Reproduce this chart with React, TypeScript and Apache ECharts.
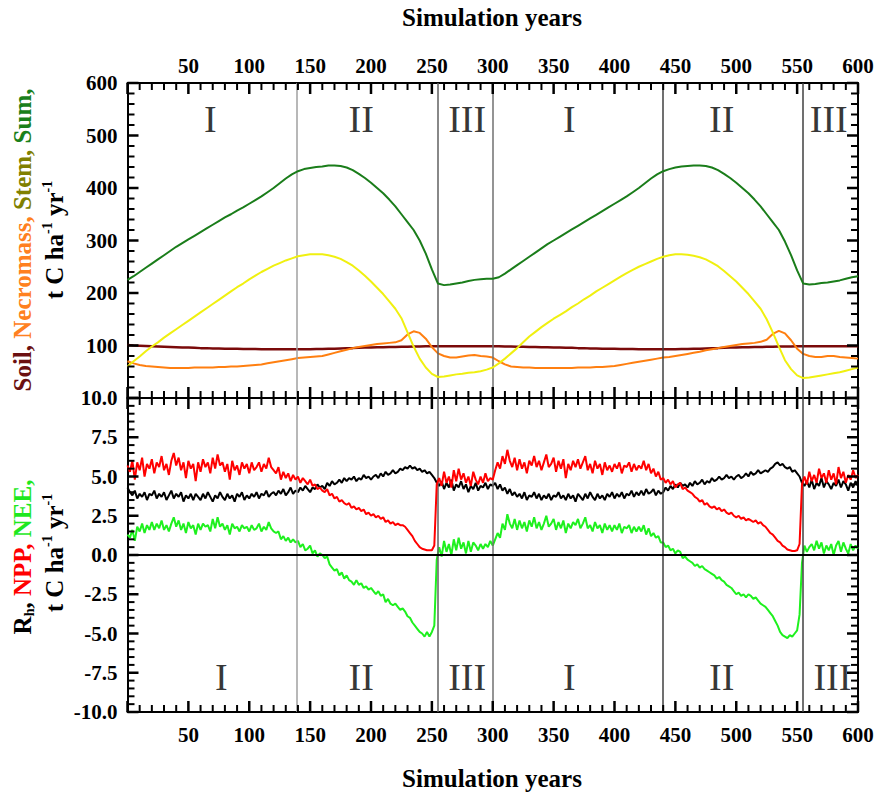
import React, { useEffect, useRef } from 'react';
import * as echarts from 'echarts';

// ---------- DATA ----------
// Top panel: carbon pools, t C ha-1, every 5 simulation years (0..600)
const poolYears = Array.from({ length: 121 }, (_, i) => i * 5);

const sumPool = [
  225, 232, 240, 248, 256, 264, 272, 280, 288, 295,
  302, 309, 316, 323, 330, 337, 344, 350, 357, 363,
  370, 377, 384, 392, 400, 409, 418, 426, 432, 436,
  438, 440, 441, 443, 443, 442, 439, 434, 427, 419,
  410, 400, 390, 378, 365, 350, 335, 320, 300, 275,
  245, 218, 215, 216, 218, 220, 223, 225, 226, 227,
  227, 230, 237, 245, 253, 261, 269, 277, 285, 293,
  300, 307, 314, 321, 328, 335, 342, 349, 356, 363,
  370, 377, 384, 392, 400, 409, 418, 426, 432, 436,
  439, 441, 442, 443, 443, 442, 439, 434, 427, 419,
  410, 400, 390, 378, 365, 350, 335, 320, 298, 272,
  243, 218, 216, 217, 219, 220, 222, 224, 227, 230,
  232,
];

const stemPool = [
  60, 70, 79, 89, 98, 106, 115, 123, 131, 139,
  147, 155, 163, 171, 179, 187, 195, 203, 211, 218,
  226, 233, 240, 246, 252, 257, 262, 266, 270, 272,
  274, 274, 274, 272, 269, 265, 259, 252, 243, 233,
  222, 210, 198, 184, 170, 152, 125, 98, 75, 58,
  46, 40, 41, 43, 45, 46, 48, 49, 51, 54,
  58, 66, 75, 85, 95, 106, 117, 126, 135, 143,
  151, 158, 165, 173, 180, 188, 195, 203, 210, 217,
  224, 231, 238, 244, 250, 255, 260, 265, 269, 272,
  274, 274, 273, 271, 268, 264, 258, 251, 242, 232,
  222, 210, 198, 184, 170, 150, 125, 98, 72, 55,
  43, 38, 39, 41, 43, 45, 47, 49, 52, 55,
  58,
];

const soilPool = [
  101, 100, 99.5, 99, 98.5, 98, 97.5, 97, 96.5, 96,
  96, 95.5, 95, 95, 94.5, 94.5, 94, 94, 94, 93.5,
  93.5, 93.5, 93, 93, 93, 93, 93, 93, 93, 93,
  93, 93.5, 93.5, 94, 94, 94.5, 95, 95, 95.5, 96,
  96, 96.5, 96.5, 97, 97, 97.5, 97.5, 98, 98, 98.5,
  98.5, 98.5, 98.5, 98.5, 98.5, 98.5, 98.5, 98.5, 98.5, 98.5,
  98.5, 98.5, 98, 98, 97.5, 97.5, 97, 97, 96.5, 96.5,
  96, 96, 95.5, 95.5, 95, 95, 94.5, 94.5, 94, 94,
  94, 93.5, 93.5, 93.5, 93, 93, 93, 93, 93, 93,
  93, 93.5, 93.5, 94, 94, 94.5, 95, 95, 95.5, 96,
  96, 96.5, 96.5, 97, 97, 97.5, 97.5, 98, 98, 98,
  98.5, 98.5, 98.5, 98.5, 98.5, 98.5, 98.5, 98.5, 98.5, 98.5,
  98.5,
];

const necroPool = [
  70, 66, 63, 61, 60, 59, 58, 57, 57, 57,
  57, 58, 58, 58, 58, 59, 59, 60, 60, 61,
  62, 63, 64, 66, 68, 70, 72, 74, 76, 77,
  78, 79, 80, 83, 86, 89, 92, 95, 97, 99,
  101, 103, 104, 105, 106, 110, 121, 127, 124, 113,
  97, 85, 80, 77, 77, 79, 81, 82, 80, 79,
  77, 70, 64, 60, 59, 58, 58, 57, 57, 57,
  57, 57, 57, 57, 58, 58, 58, 59, 59, 60,
  61, 63, 65, 67, 69, 71, 73, 75, 77, 78,
  80, 82, 84, 86, 88, 91, 93, 95, 97, 99,
  101, 103, 104, 105, 107, 111, 122, 128, 123, 110,
  94, 84, 80, 78, 78, 80, 80, 78, 77, 76,
  75,
];

// Bottom panel: fluxes, t C ha-1 yr-1, every 2 simulation years (0..600)
const fluxYears = Array.from({ length: 301 }, (_, i) => i * 2);

const nppFlux = [
  5.7, 5.3, 6.0, 4.8, 5.9, 5.4, 6.2, 5.0, 5.8, 5.5, 6.1,
  5.2, 5.9, 5.6, 6.3, 5.4, 5.8, 5.1, 6.0, 6.5, 5.7,
  6.2, 5.4, 5.9, 4.9, 6.0, 5.5, 5.8, 4.7, 5.9, 5.3,
  6.1, 5.6, 5.9, 5.2, 6.2, 5.5, 6.4, 5.7, 5.9, 5.3,
  5.8, 4.8, 6.0, 5.4, 5.7, 5.1, 5.9, 5.5, 5.8, 5.2,
  5.9, 5.4, 5.6, 5.9, 5.3, 5.8, 5.5, 6.2, 5.6, 5.4,
  5.2, 5.6, 4.8, 5.3, 4.9, 5.2, 4.7, 5.1, 4.8, 5.0,
  4.6, 4.9, 4.7, 4.5, 4.8, 4.4, 4.5, 4.2, 4.3, 4.1,
  4.0, 4.2, 3.8, 3.9, 3.6, 3.7, 3.4, 3.5, 3.3, 3.2,
  3.3, 3.0, 3.1, 2.9, 3.0, 2.8, 2.9, 2.6, 2.7, 2.5,
  2.6, 2.4, 2.5, 2.3, 2.4, 2.1, 2.2, 2.0, 2.1, 1.9,
  2.0, 1.9, 1.9, 1.8, 1.6, 1.4, 1.2, 0.9, 0.7, 0.5,
  0.4, 0.35, 0.3, 0.3, 0.3, 0.6, 4.5,
  4.9, 4.4, 5.3, 4.6, 5.0, 4.3, 5.4, 4.7, 5.5, 4.8, 5.2,
  4.6, 5.0, 4.4, 5.3, 4.8, 4.5, 5.0, 4.6, 5.2, 4.7, 4.9,
  4.8, 5.4, 5.9, 5.5, 6.3, 5.8, 6.7, 6.0, 5.6, 6.2, 5.4,
  6.1, 5.5, 5.9, 5.2, 6.0, 5.7, 6.3, 5.6, 6.0, 5.4,
  5.9, 6.4, 5.6, 5.8, 6.2, 5.3, 6.0, 5.5, 6.1, 4.9,
  5.8, 5.4, 6.0, 5.6, 6.1, 5.5, 5.9, 6.3, 5.4, 5.8,
  5.2, 6.0, 5.5, 5.8, 5.1, 5.9, 5.4, 5.7, 5.3, 5.8,
  5.5, 5.9, 5.2, 5.7, 5.6, 5.9, 5.3, 5.8, 5.4, 5.7,
  5.5, 6.0, 5.4, 5.8, 5.2, 5.5, 5.0, 5.3, 4.8, 4.9,
  4.6, 4.8, 4.5, 4.7, 4.3, 4.5, 4.6, 4.2, 4.3, 4.1,
  4.0, 3.9, 3.7, 3.6, 3.4, 3.5, 3.2, 3.3, 3.1, 3.0,
  3.1, 2.9, 3.0, 2.8, 2.9, 2.7, 2.6, 2.7, 2.5, 2.4,
  2.5, 2.3, 2.4, 2.2, 2.3, 2.2, 2.1, 2.2, 2.0, 2.1,
  1.9, 1.8, 1.6, 1.4, 1.3, 1.1, 0.9, 0.8, 0.6, 0.5,
  0.35, 0.3, 0.25, 0.25, 0.3, 0.7, 4.5,
  5.0, 4.5, 5.3, 4.7, 5.1, 4.6, 5.5, 4.9, 5.2, 4.6, 5.4,
  4.8, 5.2, 4.5, 5.6, 4.9, 5.3, 4.6, 5.1, 4.8, 5.4, 4.9, 5.1,
];

const rhFlux = [
  4.3, 4.0, 3.8, 4.1, 3.6, 3.9, 3.7, 4.0, 3.5, 3.9, 3.8,
  4.1, 3.6, 3.9, 3.7, 4.0, 3.5, 3.8, 4.1, 3.6, 3.9,
  3.7, 4.0, 3.4, 3.8, 3.6, 3.9, 3.5, 3.9, 3.7, 3.5,
  3.9, 3.6, 4.0, 3.7, 3.4, 3.8, 3.6, 4.0, 3.7, 3.5,
  3.9, 3.6, 3.8, 3.4, 3.9, 3.7, 4.0, 3.5, 3.8, 3.6,
  3.9, 3.7, 4.0, 3.6, 3.9, 3.8, 4.1, 3.7, 3.9, 4.0,
  3.8, 4.1, 3.9, 4.2, 3.8, 4.0, 4.3, 3.9, 4.1, 4.0,
  4.3, 4.1, 4.4, 4.2, 4.0, 4.3, 4.2, 4.5, 4.3, 4.4,
  4.2, 4.6, 4.4, 4.7, 4.5, 4.6, 4.8, 4.6, 4.9, 4.7,
  4.9, 4.8, 5.0, 4.7, 4.9, 4.8, 5.1, 4.9, 5.0, 4.8,
  5.0, 5.1, 4.9, 5.2, 5.0, 5.3, 5.1, 5.2, 5.4, 5.2,
  5.3, 5.5, 5.4, 5.6, 5.5, 5.7, 5.5, 5.6, 5.4, 5.5,
  5.3, 5.4, 5.2, 5.3, 5.1, 4.9, 4.6,
  4.4, 4.7, 4.2, 4.6, 4.3, 4.8, 4.1, 4.5, 4.3, 4.7, 4.2,
  4.5, 4.0, 4.4, 4.2, 4.6, 4.1, 4.4, 4.3, 4.6, 4.2, 4.5,
  4.4, 4.6, 4.2, 4.5, 4.1, 4.3, 3.9, 4.2, 3.8, 4.0, 3.7,
  3.9, 3.6, 4.0, 3.5, 3.8, 3.7, 4.0, 3.6, 3.9, 3.5,
  3.8, 3.6, 3.9, 3.5, 3.8, 3.7, 4.0, 3.6, 3.8, 3.5,
  3.9, 3.6, 3.8, 3.4, 3.9, 3.7, 3.5, 3.9, 3.6, 4.0,
  3.7, 3.5, 3.9, 3.6, 3.8, 3.5, 3.9, 3.7, 4.0, 3.6,
  3.9, 3.7, 4.0, 3.6, 3.9, 3.8, 4.1, 3.7, 4.0, 3.8,
  4.1, 3.8, 4.2, 3.9, 4.0, 4.2, 3.8, 4.1, 3.9, 4.0,
  4.3, 4.1, 4.4, 4.2, 4.5, 4.3, 4.6, 4.4, 4.5, 4.3,
  4.6, 4.4, 4.7, 4.5, 4.6, 4.8, 4.5, 4.7, 4.6, 4.9,
  4.7, 4.8, 5.0, 4.8, 4.9, 5.1, 4.9, 5.0, 4.8, 5.0,
  5.1, 4.9, 5.0, 5.2, 5.0, 5.3, 5.1, 5.2, 5.4, 5.2,
  5.3, 5.4, 5.3, 5.5, 5.6, 5.8, 5.9, 5.7, 5.8, 5.6,
  5.5, 5.6, 5.3, 5.4, 5.2, 5.0, 4.6,
  4.4, 4.7, 4.3, 4.8, 4.2, 4.6, 4.4, 4.9, 4.3, 4.7, 4.5,
  4.2, 4.6, 4.4, 4.8, 4.3, 4.7, 4.5, 4.1, 4.6, 4.3, 4.7, 4.4,
];

const neeFlux = [
  1.3, 1.1, 1.6, 0.9, 1.8, 1.5, 2.0, 1.4, 1.9, 1.6, 2.1,
  1.6, 2.0, 1.7, 2.2, 1.6, 1.9, 1.5, 2.0, 2.4, 1.8,
  2.2, 1.6, 2.0, 1.4, 2.1, 1.7, 1.9, 1.3, 2.0, 1.6,
  2.0, 1.8, 1.9, 1.5, 2.3, 1.7, 2.4, 1.8, 2.0, 1.6,
  1.9, 1.3, 2.0, 1.7, 1.8, 1.5, 1.9, 1.7, 1.8, 1.5,
  1.9, 1.6, 1.7, 2.0, 1.5, 1.8, 1.6, 2.1, 1.7, 1.5,
  1.4, 1.5, 1.0, 1.2, 0.9, 1.1, 0.8, 1.0, 0.8, 0.9,
  0.5, 0.7, 0.3, 0.4, 0.6, 0.1, 0.3, -0.1, 0.1, 0.0,
  -0.2, -0.1, -0.6, -0.8, -1.0, -0.9, -1.3, -1.1, -1.5, -1.3,
  -1.6, -1.7, -1.9, -1.6, -1.9, -1.8, -2.1, -2.0, -2.2, -2.1,
  -2.3, -2.5, -2.3, -2.6, -2.5, -3.0, -2.8, -3.1, -3.2, -3.1,
  -3.3, -3.5, -3.4, -3.6, -3.9, -4.0, -4.3, -4.5, -4.7, -4.9,
  -5.0, -5.2, -4.9, -5.2, -4.9, -4.5, -0.3,
  0.5, -0.1, 0.9, 0.2, 0.7, 0.0, 1.0, 0.3, 1.1, 0.4, 0.8,
  0.1, 0.9, 0.2, 0.8, 0.6, 0.3, 0.7, 0.4, 0.7, 0.5, 0.9,
  0.6, 1.0, 1.4, 1.1, 2.0, 1.6, 2.6, 2.0, 1.7, 2.3, 1.6,
  2.2, 1.7, 2.1, 1.5, 2.2, 1.8, 2.4, 1.7, 2.1, 1.6,
  2.0, 2.5, 1.8, 2.0, 2.3, 1.6, 2.1, 1.7, 2.2, 1.4,
  2.0, 1.7, 2.1, 1.9, 2.3, 1.7, 2.0, 2.4, 1.7, 1.9,
  1.5, 2.1, 1.7, 1.9, 1.4, 2.0, 1.6, 1.9, 1.5, 1.9,
  1.6, 2.0, 1.4, 1.8, 1.7, 1.9, 1.4, 1.8, 1.5, 1.8,
  1.5, 1.9, 1.3, 1.7, 1.2, 1.4, 1.1, 1.2, 0.8, 0.8,
  0.5, 0.6, 0.3, 0.4, 0.1, 0.3, 0.2, -0.2, -0.1, -0.3,
  -0.4, -0.5, -0.7, -0.6, -0.8, -0.7, -0.9, -1.0, -1.1, -1.2,
  -1.3, -1.5, -1.4, -1.6, -1.7, -1.9, -2.0, -2.1, -2.3, -2.5,
  -2.4, -2.6, -2.5, -2.7, -2.5, -2.6, -2.8, -2.7, -2.9, -3.1,
  -3.2, -3.3, -3.5, -3.7, -3.9, -4.2, -4.5, -4.9, -5.1, -5.2,
  -5.3, -5.1, -5.2, -5.0, -4.8, -3.8, -0.5,
  0.6, 0.2, 0.5, 0.7, 0.3, 0.9, 0.4, 0.8, 0.1, 0.6, 0.3,
  0.7, 0.0, 0.6, 0.9, 0.2, 0.8, 0.4, 0.1, 0.7, 0.3, 0.6, 0.4,
];

// Phase boundaries (years) and phase labels
const phaseBounds = [139, 255, 300, 440, 555];
const phaseBoundColors = ['#a0a0a0', '#606060', '#707070', '#404040', '#404040'];
const topPhaseLabels: [number, number, string][] = [
  [68, 531, 'I'], [192, 531, 'II'], [279, 531, 'III'],
  [363, 531, 'I'], [488, 531, 'II'], [576, 531, 'III'],
];
const bottomPhaseLabels: [number, number, string][] = [
  [77, -7.8, 'I'], [192, -7.8, 'II'], [279, -7.8, 'III'],
  [363, -7.8, 'I'], [488, -7.8, 'II'], [579, -7.8, 'III'],
];

// Tick positions (major + minor) of the inward ticks
const yearTicks = Array.from({ length: 61 }, (_, i) => i * 10);          // major every 50
const poolTicks = Array.from({ length: 31 }, (_, i) => i * 20);          // major every 100
const fluxTicks = Array.from({ length: 41 }, (_, i) => -10 + i * 0.5);   // major every 2.5

const FONT = "'Liberation Serif', 'Times New Roman', serif";

// layout
const GRID_W = 730.5;
const TOP_H = 315;
const BOT_H = 314;
const MAJOR_LEN = 11;
const MINOR_LEN = 7;

const pair = (xs: number[], ys: number[]) => xs.map((x, i) => [x, ys[i]]);
const isMajor = (v: number, step: number) => Math.abs(v / step - Math.round(v / step)) < 1e-6;

function xAxisDef(gridIndex: number, position: 'top' | 'bottom', showLabel: boolean, margin: number) {
  return {
    type: 'value', gridIndex, position, min: 0, max: 600, interval: 50,
    axisLine: { show: true, onZero: false, lineStyle: { color: '#000', width: 2 } },
    axisTick: { show: false },
    minorTick: { show: false },
    axisLabel: {
      show: showLabel, margin,
      formatter: (v: number) => (v === 0 ? '' : String(v)),
      fontFamily: FONT, fontWeight: 'bold', fontSize: 21, color: '#000',
    },
    splitLine: { show: false },
  };
}

function yAxisDef(gridIndex: number, position: 'left' | 'right', min: number, max: number, interval: number, showLabel: boolean, fmt: (v: number) => string) {
  return {
    type: 'value', gridIndex, position, min, max, interval,
    axisLine: { show: true, onZero: false, lineStyle: { color: '#000', width: 2 } },
    axisTick: { show: false },
    minorTick: { show: false },
    axisLabel: {
      show: showLabel, margin: 10, formatter: fmt,
      fontFamily: FONT, fontWeight: 'bold', fontSize: 21, color: '#000',
    },
    splitLine: { show: false },
  };
}

function phaseLines(extra: any[] = []) {
  return {
    silent: true,
    symbol: ['none', 'none'],
    label: { show: false },
    data: [
      ...phaseBounds.map((x, i) => ({ xAxis: x, lineStyle: { color: phaseBoundColors[i], width: 1.5, type: 'solid' } })),
      ...extra,
    ],
  };
}

function phaseSeries(xi: number, yi: number, data: [number, number, string][]) {
  return {
    type: 'scatter', xAxisIndex: xi, yAxisIndex: yi, silent: true,
    symbolSize: 1, itemStyle: { color: 'rgba(0,0,0,0)' },
    data,
    label: {
      show: true, position: 'inside',
      formatter: (p: any) => p.value[2],
      fontFamily: FONT, fontSize: 38, color: '#000',
    },
    z: 1,
  };
}

const titleBold = { fontFamily: FONT, fontWeight: 'bold', fontSize: 25 };
const supStyle = { fontFamily: FONT, fontWeight: 'bold', fontSize: 14, lineHeight: 14, verticalAlign: 'top', fill: '#000' };

const titleGraphics: any[] = [
  { type: 'text', x: 492, y: 17, style: { text: 'Simulation years', ...titleBold, fill: '#000', align: 'center', verticalAlign: 'middle' } },
  { type: 'text', x: 492, y: 778, style: { text: 'Simulation years', ...titleBold, fill: '#000', align: 'center', verticalAlign: 'middle' } },
  {
    type: 'text', x: 22, y: 240, rotation: Math.PI / 2,
    style: {
      text: '{soil|Soil, }{nec|Necromass, }{stem|Stem, }{sum|Sum,}',
      align: 'center', verticalAlign: 'middle', ...titleBold,
      rich: {
        soil: { ...titleBold, fill: '#6b1010' },
        nec: { ...titleBold, fill: '#ff8020' },
        stem: { ...titleBold, fill: '#808000' },
        sum: { ...titleBold, fill: '#1a801a' },
      },
    },
  },
  {
    type: 'text', x: 54, y: 240, rotation: Math.PI / 2,
    style: {
      text: '{b|t C ha}{s|-1}{b| yr}{s|-1}',
      align: 'center', verticalAlign: 'middle', ...titleBold,
      rich: { b: { ...titleBold, lineHeight: 28, fill: '#000' }, s: supStyle },
    },
  },
  {
    type: 'text', x: 22, y: 557, rotation: Math.PI / 2,
    style: {
      text: '{r|R}{h|h}{r|, }{npp|NPP, }{nee|NEE,}',
      align: 'center', verticalAlign: 'middle', ...titleBold,
      rich: {
        r: { ...titleBold, lineHeight: 28, fill: '#000' },
        h: { fontFamily: FONT, fontWeight: 'bold', fontSize: 14, lineHeight: 14, verticalAlign: 'bottom', fill: '#000' },
        npp: { ...titleBold, fill: '#ff0000' },
        nee: { ...titleBold, fill: '#1ee81e' },
      },
    },
  },
  {
    type: 'text', x: 54, y: 553, rotation: Math.PI / 2,
    style: {
      text: '{b|t C ha}{s|-1}{b| yr}{s|-1}',
      align: 'center', verticalAlign: 'middle', ...titleBold,
      rich: { b: { ...titleBold, lineHeight: 28, fill: '#000' }, s: supStyle },
    },
  },
];

export default function App() {
  const ref = useRef<HTMLDivElement>(null);

  useEffect(() => {
    if (!ref.current) return;
    const chart = echarts.init(ref.current, undefined, { renderer: 'svg' });
    const option: any = {
      animation: false,
      backgroundColor: '#fff',
      grid: [
        { left: 127.5, top: 83, width: GRID_W, height: TOP_H },
        { left: 127.5, top: 83 + TOP_H, width: GRID_W, height: BOT_H },
      ],
      xAxis: [
        xAxisDef(0, 'top', true, 7),
        xAxisDef(0, 'bottom', false, 8),
        xAxisDef(1, 'top', false, 8),
        xAxisDef(1, 'bottom', true, 12),
      ],
      yAxis: [
        yAxisDef(0, 'left', 0, 600, 100, true, (v) => (v === 0 ? '' : String(v))),
        yAxisDef(0, 'right', 0, 600, 100, false, (v) => String(v)),
        yAxisDef(1, 'left', -10, 10, 2.5, true, (v) => v.toFixed(1)),
        yAxisDef(1, 'right', -10, 10, 2.5, false, (v) => String(v)),
      ],
      graphic: { elements: titleGraphics },
      series: [
        {
          name: 'Soil', type: 'line', xAxisIndex: 0, yAxisIndex: 0, symbol: 'none',
          data: pair(poolYears, soilPool), lineStyle: { color: '#7a0a0a', width: 2.5 },
          markLine: phaseLines(), z: 3,
        },
        {
          name: 'Necromass', type: 'line', xAxisIndex: 0, yAxisIndex: 0, symbol: 'none',
          data: pair(poolYears, necroPool), lineStyle: { color: '#ff7f10', width: 2 }, z: 4,
        },
        {
          name: 'Stem', type: 'line', xAxisIndex: 0, yAxisIndex: 0, symbol: 'none',
          data: pair(poolYears, stemPool), lineStyle: { color: '#f0f010', width: 2 }, z: 5,
        },
        {
          name: 'Sum', type: 'line', xAxisIndex: 0, yAxisIndex: 0, symbol: 'none',
          data: pair(poolYears, sumPool), lineStyle: { color: '#1a7d1a', width: 2 }, z: 5,
        },
        {
          name: 'NEE', type: 'line', xAxisIndex: 3, yAxisIndex: 2, symbol: 'none',
          data: pair(fluxYears, neeFlux), lineStyle: { color: '#1ef01e', width: 2 },
          markLine: phaseLines([{ yAxis: 0, lineStyle: { color: '#000', width: 2, type: 'solid' } }]),
          z: 3,
        },
        {
          name: 'Rh', type: 'line', xAxisIndex: 3, yAxisIndex: 2, symbol: 'none',
          data: pair(fluxYears, rhFlux), lineStyle: { color: '#000000', width: 2 }, z: 4,
        },
        {
          name: 'NPP', type: 'line', xAxisIndex: 3, yAxisIndex: 2, symbol: 'none',
          data: pair(fluxYears, nppFlux), lineStyle: { color: '#ff0000', width: 2 }, z: 5,
        },
        phaseSeries(0, 0, topPhaseLabels),
        phaseSeries(3, 2, bottomPhaseLabels),
      ],
    };
    chart.setOption(option);

    // Inward ticks: positions come from the axes' own scales via convertToPixel.
    const tickLines: any[] = [];
    const addLine = (x1: number, y1: number, x2: number, y2: number, major: boolean) => {
      tickLines.push({
        type: 'line', silent: true, z: 100,
        shape: { x1, y1, x2, y2 },
        style: { stroke: '#000', lineWidth: major ? 2.5 : 2 },
      });
    };
    const panels = [
      { xi: 0, yi: 0, yTicks: poolTicks, yMajor: 100, yLo: 0, yHi: 600 },
      { xi: 3, yi: 2, yTicks: fluxTicks, yMajor: 2.5, yLo: -10, yHi: 10 },
    ];
    panels.forEach((pn) => {
      const yTopPx = chart.convertToPixel({ yAxisIndex: pn.yi }, pn.yHi) as number;
      const yBotPx = chart.convertToPixel({ yAxisIndex: pn.yi }, pn.yLo) as number;
      const xLeftPx = chart.convertToPixel({ xAxisIndex: pn.xi }, 0) as number;
      const xRightPx = chart.convertToPixel({ xAxisIndex: pn.xi }, 600) as number;
      yearTicks.forEach((v) => {
        const major = isMajor(v, 50);
        const len = major ? MAJOR_LEN : MINOR_LEN;
        const x = chart.convertToPixel({ xAxisIndex: pn.xi }, v) as number;
        addLine(x, yTopPx, x, yTopPx + len, major);
        addLine(x, yBotPx, x, yBotPx - len, major);
      });
      pn.yTicks.forEach((v) => {
        const major = isMajor(v, pn.yMajor);
        const len = major ? MAJOR_LEN : MINOR_LEN;
        const y = chart.convertToPixel({ yAxisIndex: pn.yi }, v) as number;
        addLine(xLeftPx, y, xLeftPx + len, y, major);
        addLine(xRightPx, y, xRightPx - len, y, major);
      });
    });
    chart.setOption({ graphic: { elements: [...titleGraphics, ...tickLines] } });

    return () => chart.dispose();
  }, []);

  return (
    <div
      ref={ref}
      style={{ position: 'absolute', left: 0, top: 0, width: 877, height: 793, background: '#fff' }}
    />
  );
}
